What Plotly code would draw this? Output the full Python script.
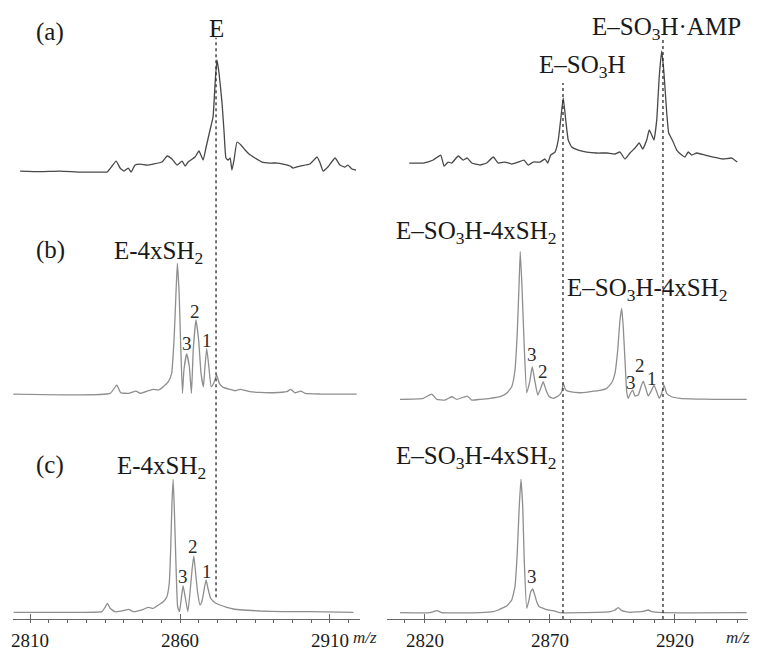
import plotly.graph_objects as go

# ---------------- data (m/z, intensity in arbitrary units) ----------------
# Row (a)
a_left_mz = [2806.7, 2813.3, 2820, 2826.7, 2833.3, 2835.7, 2838.7, 2840, 2841.3, 2842.7, 2843.7, 2845,
             2846.7, 2849, 2851, 2854, 2855.7, 2857.3, 2859, 2860.7, 2861.7, 2862.7, 2865, 2866.3,
             2867.7, 2868.7, 2870, 2871, 2871.7, 2872.3, 2873, 2874, 2874.7, 2875.3, 2876, 2876.7,
             2877.3, 2878, 2879, 2880.3, 2881.7, 2883, 2885, 2887.3, 2890, 2892.3, 2894.3, 2896.7,
             2897.7, 2900, 2903.3, 2905.7, 2906.7, 2907.7, 2909.3, 2911.7, 2913.3, 2915, 2916,
             2917.3, 2918.7]
a_left_int = [9, 8.5, 9, 8, 8, 8, 19, 12, 9, 12, 8, 15,
              16, 15, 16, 18, 24, 21, 15, 19, 14, 18, 23, 29,
              20, 33, 50, 63, 97, 120, 107, 77, 47, 22, 20, 22,
              10, 20, 38, 35, 30, 26, 22, 18, 17, 17, 16, 14,
              12, 14, 16, 23, 17, 9, 13, 22, 15, 13, 15,
              11, 10]

a_right_mz = [2813.7, 2819.3, 2823.3, 2826.3, 2827.6, 2829.3, 2830.7, 2833.3, 2835.3, 2836.9, 2838.7,
              2842, 2844.7, 2847.3, 2849.3, 2852, 2854.7, 2857.3, 2859.6, 2861.3, 2863.3, 2866,
              2868, 2869.1, 2870.3, 2872, 2873.3, 2874.4, 2875.3, 2876.3, 2877.3, 2878.7, 2881.3,
              2884.7, 2888.7, 2892.7, 2896, 2898, 2900, 2902, 2904, 2905.7, 2907.1, 2908.7, 2909.7,
              2910.7, 2911.6, 2912.7, 2913.7, 2914.7, 2915.6, 2916.7, 2917.5, 2918.3, 2919.3,
              2920.7, 2922.7, 2924, 2925.3, 2926.7, 2928.7, 2932, 2935.3, 2939.3, 2942.7, 2944.9]
a_right_int = [17, 17, 20, 25, 14, 18, 17, 24, 20, 22, 17,
               15, 17, 23, 17, 18, 16, 18, 20, 15, 18, 18,
               21, 17, 25, 28, 40, 63, 82, 60, 40, 33, 30,
               28, 27, 27, 26, 28, 21, 27, 32, 37, 31, 40, 50,
               45, 40, 60, 103, 129, 107, 67, 47, 43, 38,
               30, 25, 23, 28, 25, 27, 25, 23, 21, 22, 18]

# Row (b)
b_left_mz = [2804.4, 2836.7, 2838.9, 2840.2, 2842.8, 2845.3, 2846.7, 2849.4, 2851.1, 2852.8, 2854.4,
             2856.1, 2857.2, 2858, 2858.6, 2859.1, 2859.7, 2860.2, 2860.8, 2861.3, 2862.2, 2863.1,
             2863.8, 2864.4, 2865.3, 2866.2, 2867, 2867.8, 2868.3, 2868.9, 2869.6, 2870.4, 2871.3,
             2872.2, 2873.1, 2874.4, 2876.7, 2878.3, 2880, 2883.3, 2886.7, 2891.1, 2895.6, 2896.9,
             2898.3, 2900.3, 2901.7, 2906.7, 2918.9]
b_left_int = [11, 11.7, 20, 12.3, 11.7, 14, 11.7, 14.3, 15.7, 15, 18.3,
              23.3, 31.7, 65, 108.3, 141.7, 111.7, 61.7, 11.7, 35, 51, 38.3,
              11.7, 55, 85, 65, 31.7, 18.3, 38.3, 56.7, 38.3, 18.3, 22.3,
              30, 21.7, 17.7, 15.7, 14.3, 15.7, 13.3, 12.7, 12.3, 13.3, 15.7,
              12.3, 14, 11.7, 11, 11]

b_right_mz = [2810, 2819.3, 2822.7, 2824.7, 2828, 2830.7, 2832.7, 2836.9, 2838.7, 2842, 2846, 2850,
              2852.7, 2854.7, 2856, 2856.9, 2857.6, 2858.1, 2858.8, 2859.6, 2860.7, 2861.9, 2862.9,
              2864, 2865.1, 2866.3, 2867.3, 2868.4, 2869.7, 2871.3, 2873.3, 2874.7, 2875.3, 2876.3,
              2878, 2882, 2886, 2889.3, 2892.7, 2894.7, 2896, 2897.1, 2898, 2898.7, 2899.3, 2900,
              2900.7, 2901.3, 2902.3, 2903.1, 2904, 2905.3, 2906.4, 2907.3, 2908.3, 2909.3, 2910.7,
              2911.6, 2912.7, 2913.7, 2914.7, 2915.6, 2916.7, 2918.7, 2922, 2928.7, 2935.3, 2942,
              2948.7]
b_right_int = [5.7, 6.7, 11, 5.7, 5, 8.3, 5.7, 9, 5, 5.7, 6.7, 8.3,
               11.7, 18.3, 35, 71.7, 118.3, 153.3, 118.3, 65, 12.3, 23.3, 38.3,
               23.3, 10, 16.7, 23.3, 15, 8.3, 6.7, 9, 13.3, 21.7, 15,
               13.3, 12.3, 13.3, 14.3, 16.7, 22.3, 31.7, 55, 85, 96.7, 78.3, 45,
               13.3, 6.7, 12.3, 15, 9, 10, 18.3, 24, 16.7, 9, 15,
               20, 13.3, 6.7, 11.7, 20, 11.7, 8.3, 6.7, 6, 5.7, 5.7,
               5.7]

# Row (c)
c_left_mz = [2804.5, 2822.2, 2833.9, 2835, 2835.8, 2836.7, 2838.3, 2841.1, 2842.8, 2844.4, 2847.8,
             2849.4, 2851.1, 2852.8, 2854.4, 2855.6, 2856.4, 2856.9, 2857.3, 2857.7, 2858.1, 2858.6,
             2859.2, 2859.8, 2860.3, 2861, 2861.7, 2862.6, 2863.3, 2864, 2864.6, 2865.2, 2865.9,
             2866.7, 2867.4, 2868.2, 2868.7, 2869.3, 2870.2, 2871.7, 2873.3, 2875.6, 2877.8, 2881.1,
             2886.7, 2894.4, 2903.3, 2917.8]
c_left_int = [6.7, 6.7, 7.3, 11.7, 15.7, 10.7, 7.3, 8.3, 9.7, 7.3, 9.7,
              11.7, 10.7, 14, 17.3, 22.3, 35.7, 72.3, 115.7, 139.7, 109, 59,
              12.3, 7.3, 17.3, 33.3, 22.3, 7.3, 25.7, 49, 63, 45.7, 25.7,
              14, 19, 32.3, 39, 30.7, 20.7, 16.3, 14, 11.7, 10, 9,
              8, 7.3, 7.3, 6.7]

c_right_mz = [2810, 2822, 2824.9, 2826.7, 2842, 2847.3, 2849.3, 2850.7, 2852.7, 2854.7, 2856, 2856.9,
              2857.7, 2858.4, 2859.1, 2859.7, 2860.7, 2861.6, 2862.3, 2863.1, 2863.7, 2864.7, 2865.7,
              2867.3, 2869.3, 2871.3, 2874, 2882, 2894, 2896, 2897.3, 2898.7, 2902, 2907.3, 2909.3,
              2910.7, 2915.3, 2948.7]
c_right_int = [6.3, 6.3, 8.3, 6.3, 6.3, 7.3, 9, 10.7, 13, 19, 32.3, 65.7,
               112.3, 139.7, 112.3, 59, 10.7, 19, 27.3, 30, 25.7, 17.3, 12.3,
               10.7, 9, 8.3, 6.3, 6.3, 7.3, 9, 11.3, 8.3, 6.7, 7.7, 9,
               7.3, 6.3, 6.3]

# reference peak positions (dotted lines)
line_left_mz = [2872.0]
line_right_mz = [2875.2, 2915.2]

# tick labels
left_ticks = [2810, 2860, 2910]
right_ticks = [2820, 2870, 2920]

# peak labels: (axis, m/z, paper y, text)
peak_labels_big = [
    ("x", 2872.0, 0.969, "E"),
    ("x2", 2883.2, 0.909, "E\u2013SO<sub>3</sub>H"),
    ("x2", 2916.8, 0.969, "E\u2013SO<sub>3</sub>H\u00b7AMP"),
    ("x", 2852.8, 0.622, "E-4xSH<sub>2</sub>"),
    ("x2", 2840.6, 0.653, "E\u2013SO<sub>3</sub>H-4xSH<sub>2</sub>"),
    ("x2", 2909.2, 0.5635, "E\u2013SO<sub>3</sub>H-4xSH<sub>2</sub>"),
    ("x", 2853.7, 0.288, "E-4xSH<sub>2</sub>"),
    ("x2", 2840.6, 0.3035, "E\u2013SO<sub>3</sub>H-4xSH<sub>2</sub>"),
]
peak_labels_small = [
    ("x", 2862.2, 0.480, "3"), ("x", 2865.0, 0.530, "2"), ("x", 2868.9, 0.486, "1"),
    ("x2", 2862.7, 0.464, "3"), ("x2", 2867.3, 0.437, "2"),
    ("x2", 2902.3, 0.420, "3"), ("x2", 2906.0, 0.446, "2"), ("x2", 2910.7, 0.427, "1"),
    ("x", 2861.1, 0.120, "3"), ("x", 2864.4, 0.166, "2"), ("x", 2868.9, 0.127, "1"),
    ("x2", 2862.7, 0.120, "3"),
]
panel_labels = [("(a)", 0.963), ("(b)", 0.625), ("(c)", 0.293)]

# ---------------- figure ----------------
SERIF = "Liberation Serif"
dark = "#484848"
light = "#8e8e8e"

fig = go.Figure()
series = [
    (a_left_mz, a_left_int, "x", "y", dark),
    (a_right_mz, a_right_int, "x2", "y", dark),
    (b_left_mz, b_left_int, "x", "y2", light),
    (b_right_mz, b_right_int, "x2", "y2", light),
    (c_left_mz, c_left_int, "x", "y3", light),
    (c_right_mz, c_right_int, "x2", "y3", light),
]
for mz, inten, xa, ya, col in series:
    fig.add_trace(go.Scatter(x=mz, y=inten, xaxis=xa, yaxis=ya, mode="lines",
                             line=dict(color=col, width=1.3, shape="spline", smoothing=0.4),
                             hoverinfo="skip", showlegend=False))

shapes = []
for m in line_left_mz:
    shapes.append(dict(type="line", xref="x", yref="paper", x0=m, x1=m, y0=0.088, y1=0.954,
                       line=dict(color="#2a2a2a", width=1.3, dash="dot")))
line_tops = [0.884, 0.954]
for m, top in zip(line_right_mz, line_tops):
    shapes.append(dict(type="line", xref="x2", yref="paper", x0=m, x1=m, y0=0.0542, y1=top,
                       line=dict(color="#2a2a2a", width=1.3, dash="dot")))

annotations = []
for xa, m, yp, t in peak_labels_big:
    annotations.append(dict(xref=xa, yref="paper", x=m, y=yp, text=t, showarrow=False,
                            font=dict(family=SERIF, size=25, color="#1a1a1a"),
                            xanchor="center", yanchor="middle"))
for xa, m, yp, t in peak_labels_small:
    annotations.append(dict(xref=xa, yref="paper", x=m, y=yp, text=t, showarrow=False,
                            font=dict(family=SERIF, size=19, color="#2a2a2a"),
                            xanchor="center", yanchor="middle"))
for t, yp in panel_labels:
    annotations.append(dict(xref="paper", yref="paper", x=0.0556, y=yp, text=t, showarrow=False,
                            font=dict(family=SERIF, size=25, color="#1a1a1a"),
                            xanchor="center", yanchor="middle"))
for xp in [0.4722, 0.9656]:
    annotations.append(dict(xref="paper", yref="paper", x=xp, y=0.0263, text="<i>m/z</i>",
                            showarrow=False, font=dict(family=SERIF, size=17, color="#2a2a2a"),
                            xanchor="center", yanchor="middle"))

xcommon = dict(anchor="free", position=0.0542, showline=True, linecolor="#666", linewidth=1.3,
               ticks="inside", ticklen=5, tickcolor="#666", tickwidth=1.2, showgrid=False,
               zeroline=False, tickmode="linear", dtick=50, automargin=False,
               ticklabelstandoff=4,
               tickfont=dict(family=SERIF, size=19, color="#1a1a1a"))
fig.update_layout(
    width=756, height=646,
    margin=dict(l=0, r=0, t=0, b=0, autoexpand=False),
    paper_bgcolor="white", plot_bgcolor="white",
    xaxis=dict(domain=[0.0066, 0.4656], range=[2804.3, 2920], tick0=left_ticks[0],
               minor=dict(dtick=6.25, tick0=left_ticks[0], ticks="outside", ticklen=3,
                          tickcolor="#666"), **xcommon),
    xaxis2=dict(domain=[0.5013, 0.9788], range=[2804.8, 2949.2], tick0=right_ticks[0],
                minor=dict(dtick=50 / 6, tick0=right_ticks[0], ticks="outside", ticklen=3,
                           tickcolor="#666"), **xcommon),
    yaxis=dict(domain=[0.7337, 0.9505], range=[0, 140], visible=False, anchor="x",
               automargin=False),
    yaxis2=dict(domain=[0.3854, 0.6409], range=[0, 165], visible=False, anchor="x",
                automargin=False),
    yaxis3=dict(domain=[0.0542, 0.2848], range=[0, 149], visible=False, anchor="x",
                automargin=False),
    shapes=shapes,
    annotations=annotations,
)

fig.write_html("out.html")
